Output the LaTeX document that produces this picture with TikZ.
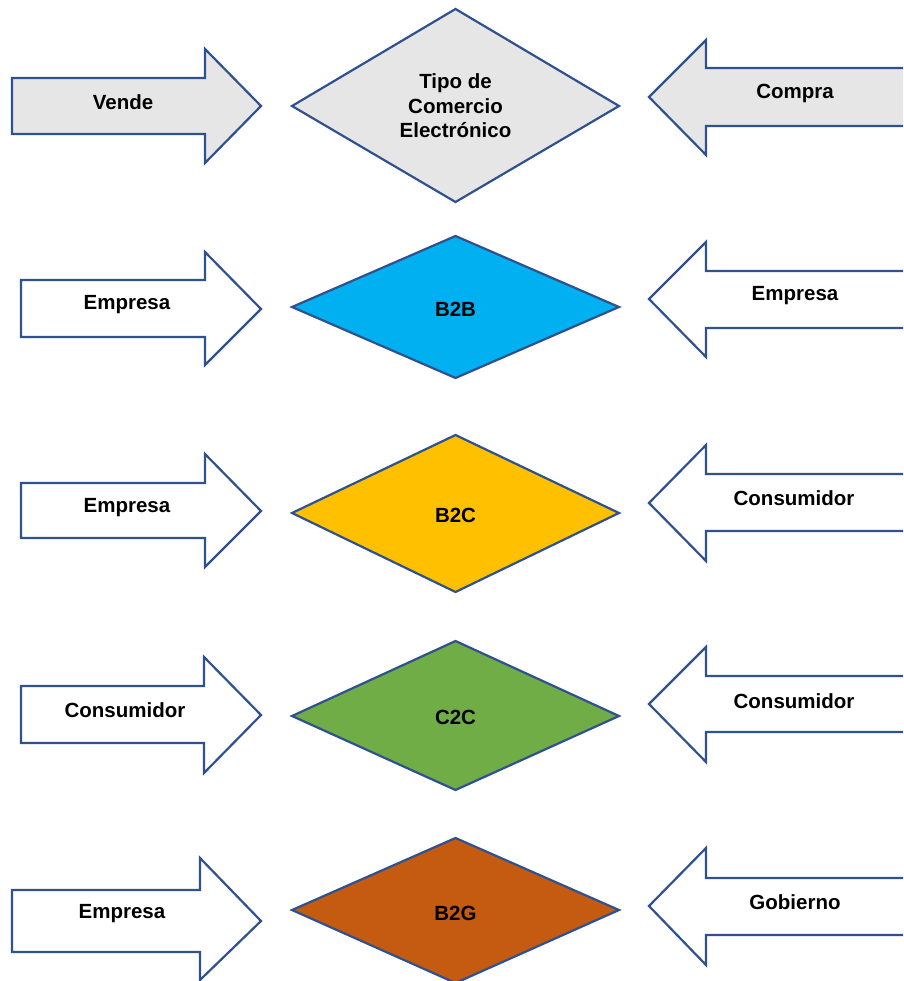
\documentclass[tikz,border=0pt]{standalone}
\usepackage{fontspec}
\setmainfont{Liberation Sans}
\definecolor{outline}{HTML}{2F528F}
\definecolor{lightgray}{HTML}{E7E6E6}
\definecolor{bbblue}{HTML}{00B0F0}
\definecolor{bcgold}{HTML}{FFC000}
\definecolor{ccgreen}{HTML}{70AD47}
\definecolor{bgrust}{HTML}{C55A11}
\begin{document}
\begin{tikzpicture}[x=1pt,y=-1pt,
  shapeline/.style={draw=outline, line width=2.2pt, line join=miter},
  lbl/.style={font=\fontsize{20.5}{24.5}\selectfont\bfseries, align=center, inner sep=0pt, text=black}]
\useasboundingbox (0,0) rectangle (903,981);
\clip (0,0) rectangle (903,981);

% ---- left-hand arrows (seller side), pointing right ----
\draw[shapeline, fill=lightgray] (12,78) -- (205,78) -- (205,49) -- (261,106) -- (205,163) -- (205,134) -- (12,134) -- cycle;
\draw[shapeline, fill=white] (21,280) -- (205,280) -- (205,252) -- (261,309) -- (205,365) -- (205,337) -- (21,337) -- cycle;
\draw[shapeline, fill=white] (21,483) -- (205,483) -- (205,454) -- (261,511) -- (205,567) -- (205,538) -- (21,538) -- cycle;
\draw[shapeline, fill=white] (21,686) -- (204,686) -- (204,657) -- (261,715) -- (204,773) -- (204,743) -- (21,743) -- cycle;
\draw[shapeline, fill=white] (12,890) -- (200,890) -- (200,858) -- (261,921) -- (200,980) -- (200,952) -- (12,952) -- cycle;

% ---- right-hand arrows (buyer side), pointing left ----
\draw[shapeline, fill=lightgray] (915,68) -- (706,68) -- (706,40) -- (649,97) -- (706,155) -- (706,126) -- (915,126);
\draw[shapeline, fill=white] (915,271) -- (706,271) -- (706,242) -- (649,299) -- (706,357) -- (706,328) -- (915,328);
\draw[shapeline, fill=white] (915,474) -- (706,474) -- (706,445) -- (649,503) -- (706,561) -- (706,531) -- (915,531);
\draw[shapeline, fill=white] (915,676) -- (706,676) -- (706,647) -- (649,704) -- (706,762) -- (706,732) -- (915,732);
\draw[shapeline, fill=white] (915,878) -- (706,878) -- (706,848) -- (649,906) -- (706,965) -- (706,935) -- (915,935);

% ---- diamonds ----
\draw[shapeline, fill=lightgray] (455.5,9) -- (619,106) -- (455.5,202) -- (292,106) -- cycle;
\draw[shapeline, fill=bbblue] (455.5,236) -- (619,307) -- (455.5,378) -- (292,307) -- cycle;
\draw[shapeline, fill=bcgold] (455.5,435) -- (619,513) -- (455.5,592) -- (292,513) -- cycle;
\draw[shapeline, fill=ccgreen] (455.5,641) -- (619,716) -- (455.5,790) -- (292,716) -- cycle;
\draw[shapeline, fill=bgrust] (455.5,838) -- (619,910) -- (455.5,983) -- (292,910) -- cycle;

% ---- labels ----
\node[lbl] (vende) at (123,102) {Vende};
\node[lbl] (compra) at (795,93) {Compra};
\node[lbl] (tipo) at (455.5,106) {Tipo de\\Comercio\\Electrónico};

\node[lbl] (v1) at (127,305) {Empresa};
\node[lbl] (t1) at (455.5,309) {B2B};
\node[lbl] (c1) at (795,296) {Empresa};

\node[lbl] (v2) at (127,508) {Empresa};
\node[lbl] (t2) at (455.5,515) {B2C};
\node[lbl] (c2) at (794,498) {Consumidor};

\node[lbl] (v3) at (125,710) {Consumidor};
\node[lbl] (t3) at (455.5,717) {C2C};
\node[lbl] (c3) at (794,701) {Consumidor};

\node[lbl] (v4) at (122,914) {Empresa};
\node[lbl] (t4) at (455.5,913) {B2G};
\node[lbl] (c4) at (795,902) {Gobierno};
\end{tikzpicture}
\end{document}
